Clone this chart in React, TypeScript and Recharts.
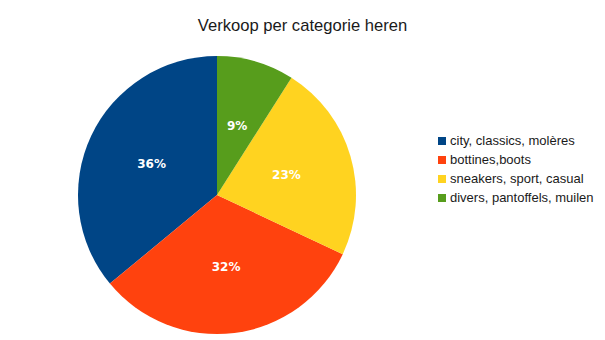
import React from 'react';
import { PieChart, Pie, Cell, Legend } from 'recharts';

const categories = ['city, classics, molères', 'bottines,boots', 'sneakers, sport, casual', 'divers, pantoffels, muilen'];
const shares = [36, 32, 23, 9];
const colors = ['#004586', '#ff420e', '#ffd320', '#579d1c'];

const data = categories.map((name, i) => ({ name, value: shares[i] }));

const RADIAN = Math.PI / 180;

const renderLabel = (props: any) => {
  const { cx, cy, midAngle, outerRadius, percent } = props;
  const r = outerRadius * 0.52;
  const x = cx + r * Math.cos(-midAngle * RADIAN);
  const y = cy + r * Math.sin(-midAngle * RADIAN);
  return (
    <text
      x={x}
      y={y}
      fill="#ffffff"
      textAnchor="middle"
      dominantBaseline="central"
      fontFamily="'DejaVu Sans', sans-serif"
      fontWeight="bold"
      fontSize={12}
    >
      {`${Math.round(percent * 100)}%`}
    </text>
  );
};

const renderLegend = () => (
  <div style={{ fontFamily: "'Liberation Sans', Arial, sans-serif", fontSize: 13, color: '#1a1a1a' }}>
    {categories.map((c, i) => (
      <div key={c} style={{ display: 'flex', alignItems: 'center', height: 19 }}>
        <span style={{ width: 8, height: 8, background: colors[i], marginRight: 4, display: 'inline-block' }} />
        <span>{c}</span>
      </div>
    ))}
  </div>
);

export default function App() {
  return (
    <div style={{ position: 'absolute', left: 0, top: 0, width: 605, height: 340, background: '#fff' }}>
      <div
        style={{
          position: 'absolute',
          top: 16,
          left: 0,
          width: 605,
          textAlign: 'center',
          fontFamily: "'Liberation Sans', Arial, sans-serif",
          fontSize: 16.6,
          color: '#1a1a1a',
          lineHeight: '20px',
        }}
      >
        Verkoop per categorie heren
      </div>
      <PieChart width={605} height={340} margin={{ top: 0, right: 0, bottom: 0, left: 0 }}>
        <Pie
          data={data}
          dataKey="value"
          nameKey="name"
          cx={217}
          cy={195}
          outerRadius={139}
          startAngle={90}
          endAngle={450}
          stroke="none"
          labelLine={false}
          label={renderLabel}
          isAnimationActive={false}
        >
          {data.map((d, i) => (
            <Cell key={d.name} fill={colors[i]} />
          ))}
        </Pie>
        <Legend
          content={renderLegend}
          wrapperStyle={{ position: 'absolute', left: 438, top: 131, width: 170 }}
        />
      </PieChart>
    </div>
  );
}
